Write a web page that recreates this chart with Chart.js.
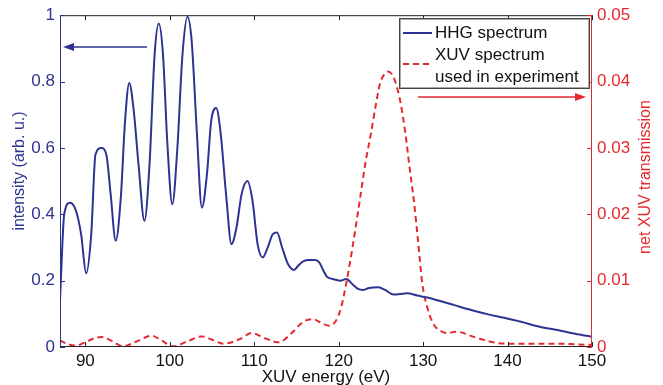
<!DOCTYPE html>
<html>
<head>
<meta charset="utf-8">
<script src="https://cdn.jsdelivr.net/npm/chart.js@4.4.1/dist/chart.umd.min.js"></script>
<style>
    html, body { margin: 0; padding: 0; background: #fff; }
    #wrap { width: 663px; height: 385px; }
</style>
</head>
<body>
<div id="wrap"><canvas id="myChart" width="663" height="385"></canvas></div>
<script>
// HHG spectrum (left axis)
let hhgEnergy = [87.0, 87.5, 88.2, 88.9, 89.5, 90.1, 90.7, 91.2, 91.9, 92.5, 93.0, 93.6,
    94.2, 94.7, 95.2, 95.7, 96.3, 97.0, 97.6, 98.2, 98.7, 99.2, 99.7, 100.3,
    100.9, 101.5, 102.1, 102.6, 103.2, 103.8, 104.4, 104.9, 105.5, 106.0, 106.7, 107.3,
    107.9, 108.5, 109.2, 109.8, 110.4, 111.0, 111.6, 112.2, 112.7, 113.3, 114.0, 114.7,
    115.2, 115.8, 116.5, 117.2, 117.7, 118.2, 118.6, 119.3, 120.2, 120.9, 121.6, 122.3,
    122.9, 123.6, 124.7, 125.5, 126.5, 127.3, 128.1, 129.3, 130.5, 131.8, 133.6, 135.5,
    137.6, 139.6, 141.6, 143.8, 145.9, 148.0, 150.0];
let hhgIntensity = [0.14, 0.40, 0.435, 0.41, 0.34, 0.222, 0.34, 0.58, 0.60, 0.578, 0.46, 0.32,
    0.45, 0.68, 0.796, 0.72, 0.55, 0.38, 0.55, 0.88, 0.975, 0.88, 0.62, 0.43,
    0.60, 0.88, 0.995, 0.92, 0.65, 0.42, 0.52, 0.68, 0.72, 0.65, 0.45, 0.31,
    0.36, 0.46, 0.50, 0.44, 0.31, 0.27, 0.30, 0.34, 0.345, 0.30, 0.25, 0.232,
    0.245, 0.258, 0.262, 0.262, 0.255, 0.23, 0.212, 0.205, 0.20, 0.205, 0.19, 0.175,
    0.172, 0.178, 0.18, 0.172, 0.158, 0.16, 0.162, 0.155, 0.149, 0.14, 0.127, 0.113,
    0.099, 0.088, 0.076, 0.061, 0.051, 0.04, 0.031];

// XUV spectrum used in experiment (right axis)
let xuvEnergy = [87.0, 88.0, 88.8, 89.8, 91.0, 91.9, 93.0, 94.5, 96.0, 97.9, 99.0, 100.4,
    102.0, 103.8, 105.0, 106.4, 108.3, 109.7, 111.3, 112.9, 114.5, 115.8, 116.9, 118.0,
    118.9, 119.7, 120.3, 120.9, 121.7, 122.5, 123.2, 123.8, 124.4, 124.9, 125.4, 125.8,
    126.3, 126.7, 127.3, 127.9, 128.4, 128.9, 129.4, 129.9, 130.6, 131.3, 132.1, 132.9,
    133.8, 134.5, 135.6, 136.8, 138.0, 138.8, 140.7, 143.0, 146.0, 148.0, 150.0];
let xuvTransmission = [0.0010, 0.0004, 0.0002, 0.0006, 0.0013, 0.0015, 0.0010, 0.0001, 0.0008, 0.0017, 0.0010, 0.0001,
    0.0008, 0.0016, 0.0011, 0.0005, 0.0012, 0.0021, 0.0013, 0.0007, 0.0022, 0.0038, 0.0042, 0.0036,
    0.0032, 0.0040, 0.0060, 0.0096, 0.0155, 0.0221, 0.0280, 0.0320, 0.0365, 0.0397, 0.0411, 0.0415,
    0.0411, 0.0400, 0.0370, 0.0322, 0.0270, 0.0221, 0.0160, 0.0096, 0.0055, 0.0033, 0.0024, 0.0021,
    0.0023, 0.0022, 0.0017, 0.0012, 0.0008, 0.0006, 0.0005, 0.0005, 0.0005, 0.0004, 0.0003];

let xTicks = [90, 100, 110, 120, 130, 140, 150];
let yLeftTicks = [0, 0.2, 0.4, 0.6, 0.8, 1];
let yRightTicks = [0, 0.01, 0.02, 0.03, 0.04, 0.05];

let blue = "#2d3391";
let red = "#e42a2f";
let fontFamily = "'Liberation Sans', Arial, sans-serif";

function toPoints(xs, ys) {
    return xs.map(function(x, i) { return {x: x, y: ys[i]}; });
}

function setTicks(values) {
    return function(scale) {
        scale.ticks = values.map(function(v) { return {value: v}; });
    };
}

function plainLabel(v) {
    return String(Math.round(v * 1000) / 1000);
}

// frame, inward ticks, axis titles, arrows and legend box
let decorations = {
    id: "decorations",
    afterDraw: function(chart) {
        let ctx = chart.ctx;
        let a = chart.chartArea;
        let x = chart.scales.x, yl = chart.scales.y, yr = chart.scales.y1;
        let tl = 5;
        ctx.save();
        ctx.lineWidth = 1;

        ctx.strokeStyle = "#222";
        ctx.beginPath();
        ctx.moveTo(a.left, a.top + 0.5); ctx.lineTo(a.right, a.top + 0.5);
        ctx.moveTo(a.left, a.bottom - 0.5); ctx.lineTo(a.right, a.bottom - 0.5);
        xTicks.forEach(function(v) {
            let px = Math.round(x.getPixelForValue(v)) + 0.5;
            ctx.moveTo(px, a.bottom); ctx.lineTo(px, a.bottom - tl);
            ctx.moveTo(px, a.top); ctx.lineTo(px, a.top + tl);
        });
        ctx.stroke();

        ctx.strokeStyle = blue;
        ctx.beginPath();
        ctx.moveTo(a.left + 0.5, a.top); ctx.lineTo(a.left + 0.5, a.bottom);
        yLeftTicks.forEach(function(v) {
            let py = Math.round(yl.getPixelForValue(v)) + 0.5;
            ctx.moveTo(a.left, py); ctx.lineTo(a.left + tl, py);
        });
        ctx.stroke();

        ctx.strokeStyle = red;
        ctx.beginPath();
        ctx.moveTo(a.right - 0.5, a.top); ctx.lineTo(a.right - 0.5, a.bottom);
        yRightTicks.forEach(function(v) {
            let py = Math.round(yr.getPixelForValue(v)) + 0.5;
            ctx.moveTo(a.right, py); ctx.lineTo(a.right - tl, py);
        });
        ctx.stroke();

        // axis titles
        ctx.font = "16px " + fontFamily;
        ctx.textAlign = "center";
        ctx.textBaseline = "middle";
        ctx.fillStyle = blue;
        ctx.save();
        ctx.translate(20, 171);
        ctx.rotate(-Math.PI / 2);
        ctx.fillText("intensity (arb. u.)", 0, 0);
        ctx.restore();
        ctx.fillStyle = red;
        ctx.save();
        ctx.translate(646, 177);
        ctx.rotate(-Math.PI / 2);
        ctx.fillText("net XUV transmission", 0, 0);
        ctx.restore();
        ctx.font = "17px " + fontFamily;
        ctx.fillStyle = "#111";
        ctx.textBaseline = "alphabetic";
        ctx.fillText("XUV energy (eV)", (a.left + a.right) / 2, 382);

        // arrows
        ctx.lineWidth = 1.5;
        ctx.strokeStyle = blue;
        ctx.fillStyle = blue;
        ctx.beginPath();
        ctx.moveTo(147, 47); ctx.lineTo(68, 47);
        ctx.stroke();
        ctx.beginPath();
        ctx.moveTo(63, 47); ctx.lineTo(74, 43); ctx.lineTo(74, 51); ctx.closePath();
        ctx.fill();
        ctx.strokeStyle = red;
        ctx.fillStyle = red;
        ctx.beginPath();
        ctx.moveTo(418, 97); ctx.lineTo(580, 97);
        ctx.stroke();
        ctx.beginPath();
        ctx.moveTo(586, 97); ctx.lineTo(575, 93); ctx.lineTo(575, 101); ctx.closePath();
        ctx.fill();

        // legend
        ctx.fillStyle = "#fff";
        ctx.fillRect(399, 18, 191, 71);
        ctx.lineWidth = 1;
        ctx.strokeStyle = "#444";
        ctx.strokeRect(399.5, 18.5, 190, 70);
        ctx.strokeStyle = "#aaa";
        ctx.strokeRect(400.5, 19.5, 188, 68);
        ctx.lineWidth = 2;
        ctx.strokeStyle = blue;
        ctx.beginPath();
        ctx.moveTo(403, 33); ctx.lineTo(432, 33);
        ctx.stroke();
        ctx.strokeStyle = red;
        ctx.setLineDash([6, 4]);
        ctx.beginPath();
        ctx.moveTo(403, 64); ctx.lineTo(432, 64);
        ctx.stroke();
        ctx.setLineDash([]);
        ctx.font = "17px " + fontFamily;
        ctx.fillStyle = "#111";
        ctx.textAlign = "left";
        ctx.textBaseline = "middle";
        ctx.fillText("HHG spectrum", 435, 33);
        ctx.fillText("XUV spectrum", 435, 55);
        ctx.fillText("used in experiment", 435, 77);
        ctx.restore();
    }
};

function chart() {
    let ctx = document.getElementById("myChart");
    let myChart = new Chart(ctx, {
        type: "line",
        data: {
            datasets: [{
                label: "HHG spectrum",
                data: toPoints(hhgEnergy, hhgIntensity),
                yAxisID: "y",
                borderColor: blue,
                borderWidth: 2,
                pointRadius: 0,
                fill: false,
                cubicInterpolationMode: "monotone"
            }, {
                label: "XUV spectrum used in experiment",
                data: toPoints(xuvEnergy, xuvTransmission),
                yAxisID: "y1",
                borderColor: red,
                borderWidth: 2,
                borderDash: [6, 4],
                pointRadius: 0,
                fill: false,
                cubicInterpolationMode: "monotone"
            }]
        },
        options: {
            responsive: false,
            animation: false,
            layout: { padding: { top: 15, left: 0, right: 0, bottom: 0 } },
            plugins: { legend: { display: false }, tooltip: { enabled: false } },
            scales: {
                x: {
                    type: "linear",
                    min: 87, max: 150,
                    afterBuildTicks: setTicks(xTicks),
                    afterFit: function(s) { s.height = 38; },
                    grid: { display: false, drawTicks: false },
                    border: { display: false },
                    ticks: { color: "#111", padding: 4, callback: plainLabel, font: { size: 17, family: fontFamily } }
                },
                y: {
                    position: "left",
                    min: 0, max: 1,
                    afterBuildTicks: setTicks(yLeftTicks),
                    afterFit: function(s) { s.width = 60; },
                    grid: { display: false, drawTicks: false },
                    border: { display: false },
                    ticks: { color: blue, padding: 5, callback: plainLabel, font: { size: 17, family: fontFamily } }
                },
                y1: {
                    position: "right",
                    min: 0, max: 0.05,
                    afterBuildTicks: setTicks(yRightTicks),
                    afterFit: function(s) { s.width = 71; },
                    grid: { display: false, drawTicks: false },
                    border: { display: false },
                    ticks: { color: red, padding: 5, callback: plainLabel, font: { size: 17, family: fontFamily } }
                }
            }
        },
        plugins: [decorations]
    });
}

chart();
</script>
</body>
</html>
